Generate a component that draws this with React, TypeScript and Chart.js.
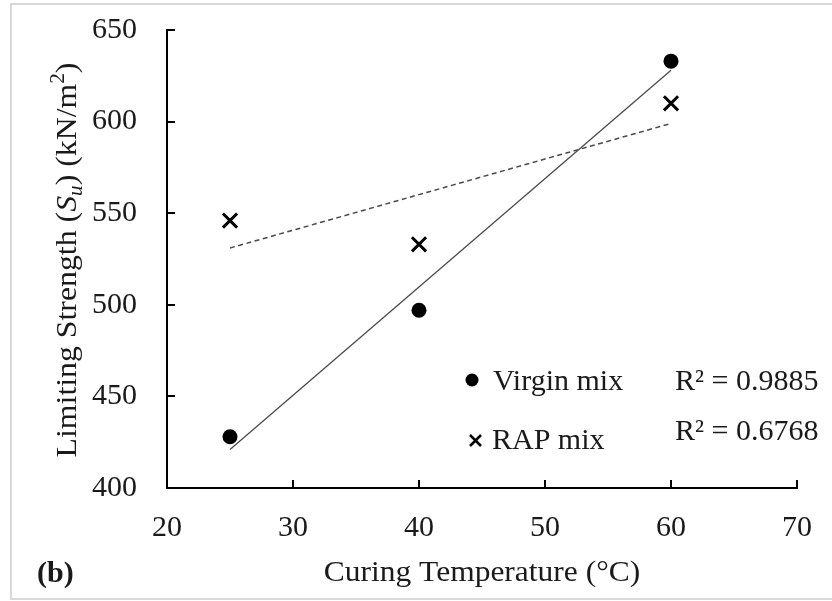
import React, { useEffect, useRef } from "react";
import { Chart, registerables } from "chart.js";

Chart.register(...registerables);

// ---- data ----
const temperatures = [25, 40, 60];
const virginMix = [428, 497, 633];
const rapMix = [546, 533, 610];
const trendX = [25, 60];
const virginTrend = [421, 628];
const rapTrend = [531, 599];
const xTicks = [20, 30, 40, 50, 60, 70];
const yTicks = [400, 450, 500, 550, 600, 650];
const seriesNames = ["Virgin mix", "RAP mix"];
const r2Labels = ["R\u00B2 = 0.9885", "R\u00B2 = 0.6768"];
const xTitle = "Curing Temperature (\u00B0C)";
const panelLabel = "(b)";

const FAMILY = "'Liberation Serif', 'Times New Roman', serif";
const TEXT = "#1a1a1a";

const overlay = {
  id: "overlay",
  afterDatasetsDraw(chart: any) {
    const ctx = chart.ctx as CanvasRenderingContext2D;
    const xs = chart.scales.x;
    const ys = chart.scales.y;
    ctx.save();
    ctx.strokeStyle = "#000";
    ctx.lineWidth = 2;
    ctx.beginPath();
    xTicks.forEach((v) => {
      const px = Math.round(xs.getPixelForValue(v));
      ctx.moveTo(px, ys.bottom);
      ctx.lineTo(px, ys.bottom - 8);
    });
    yTicks.forEach((v) => {
      const py = Math.round(ys.getPixelForValue(v));
      ctx.moveTo(xs.left, py);
      ctx.lineTo(xs.left + 8, py);
    });
    ctx.stroke();
    ctx.restore();
  },
  afterDraw(chart: any) {
    const ctx = chart.ctx as CanvasRenderingContext2D;
    const area = chart.chartArea;
    ctx.save();
    // outer frame
    ctx.strokeStyle = "#d9d9d9";
    ctx.lineWidth = 2;
    ctx.strokeRect(11, 4, 840, 595);

    ctx.fillStyle = TEXT;
    ctx.textBaseline = "alphabetic";

    // x title
    ctx.save();
    ctx.font = `30px ${FAMILY}`;
    ctx.textAlign = "center";
    ctx.translate((area.left + area.right) / 2, 581);
    ctx.scale(1.05, 1);
    ctx.fillText(xTitle, 0, 0);
    ctx.restore();

    // panel label
    ctx.font = `bold 30px ${FAMILY}`;
    ctx.textAlign = "left";
    ctx.fillText(panelLabel, 37, 582);

    // y title with italic S and subscript u
    const segs = [
      { t: "Limiting Strength (", f: `30px ${FAMILY}`, dy: 0 },
      { t: "S", f: `italic 30px ${FAMILY}`, dy: 0 },
      { t: "u", f: `italic 20px ${FAMILY}`, dy: 6 },
      { t: ") (kN/m", f: `30px ${FAMILY}`, dy: 0 },
      { t: "2", f: `20px ${FAMILY}`, dy: -12 },
      { t: ")", f: `30px ${FAMILY}`, dy: 0 },
    ];
    let total = 0;
    const widths = segs.map((s) => {
      ctx.font = s.f;
      const w = ctx.measureText(s.t).width;
      total += w;
      return w;
    });
    ctx.translate(76, (area.top + area.bottom) / 2 + 1);
    ctx.rotate(-Math.PI / 2);
    ctx.scale(1.06, 1);
    let cx = -total / 2;
    ctx.textAlign = "left";
    segs.forEach((s, i) => {
      ctx.font = s.f;
      ctx.fillText(s.t, cx, s.dy);
      cx += widths[i];
    });
    ctx.restore();

    // legend
    ctx.save();
    ctx.fillStyle = "#000";
    ctx.beginPath();
    ctx.arc(472, 380, 6.5, 0, Math.PI * 2);
    ctx.fill();
    ctx.strokeStyle = "#000";
    ctx.lineWidth = 2.5;
    ctx.beginPath();
    ctx.moveTo(470, 435);
    ctx.lineTo(481, 446);
    ctx.moveTo(481, 435);
    ctx.lineTo(470, 446);
    ctx.stroke();
    ctx.fillStyle = TEXT;
    ctx.font = `30px ${FAMILY}`;
    ctx.textAlign = "left";
    ctx.textBaseline = "alphabetic";
    ctx.fillText(seriesNames[0], 493, 390);
    ctx.fillText(seriesNames[1], 492, 449);
    ctx.fillText(r2Labels[0], 675, 390);
    ctx.fillText(r2Labels[1], 675, 440);
    ctx.restore();
  },
};

export default function App() {
  const ref = useRef<HTMLCanvasElement | null>(null);
  useEffect(() => {
    if (!ref.current) return;
    const tickFont = { family: FAMILY, size: 30 };
    const chart = new Chart(ref.current, {
      type: "scatter",
      data: {
        datasets: [
          {
            label: seriesNames[0],
            data: temperatures.map((x, i) => ({ x, y: virginMix[i] })),
            pointStyle: "circle",
            pointRadius: 7.5,
            backgroundColor: "#000",
            borderColor: "#000",
            borderWidth: 0,
          },
          {
            label: seriesNames[1],
            data: temperatures.map((x, i) => ({ x, y: rapMix[i] })),
            pointStyle: "crossRot",
            pointRadius: 10,
            borderColor: "#000",
            borderWidth: 3,
          },
          {
            label: "Virgin trend",
            data: trendX.map((x, i) => ({ x, y: virginTrend[i] })),
            showLine: true,
            pointRadius: 0,
            borderColor: "#4a4a4a",
            borderWidth: 1.3,
          },
          {
            label: "RAP trend",
            data: trendX.map((x, i) => ({ x, y: rapTrend[i] })),
            showLine: true,
            pointRadius: 0,
            borderColor: "#4a4a4a",
            borderWidth: 1.5,
            borderDash: [5, 3.5],
          },
        ],
      },
      options: {
        responsive: false,
        devicePixelRatio: 1,
        animation: false,
        layout: { padding: { top: 30, right: 35, left: 0, bottom: 0 } },
        plugins: { legend: { display: false }, tooltip: { enabled: false } },
        scales: {
          x: {
            type: "linear",
            min: 20,
            max: 70,
            afterBuildTicks: (s: any) => {
              s.ticks = xTicks.map((v) => ({ value: v }));
            },
            afterFit: (s: any) => {
              s.height = 113;
              s.paddingLeft = 0;
              s.paddingRight = 0;
            },
            ticks: { font: tickFont, color: TEXT, padding: 22, maxRotation: 0 },
            grid: { display: false, drawTicks: false },
            border: { display: true, color: "#000", width: 2 },
          },
          y: {
            type: "linear",
            min: 400,
            max: 650,
            afterBuildTicks: (s: any) => {
              s.ticks = yTicks.map((v) => ({ value: v }));
            },
            afterFit: (s: any) => {
              s.width = 167;
              s.paddingTop = 0;
              s.paddingBottom = 0;
            },
            ticks: { font: tickFont, color: TEXT, padding: 30 },
            grid: { display: false, drawTicks: false },
            border: { display: true, color: "#000", width: 2 },
          },
        },
      },
      plugins: [overlay],
    });
    return () => chart.destroy();
  }, []);
  return (
    <div style={{ position: "fixed", left: 0, top: 0, width: 832, height: 601, background: "#fff" }}>
      <canvas ref={ref} width={832} height={601} style={{ display: "block" }} />
    </div>
  );
}
